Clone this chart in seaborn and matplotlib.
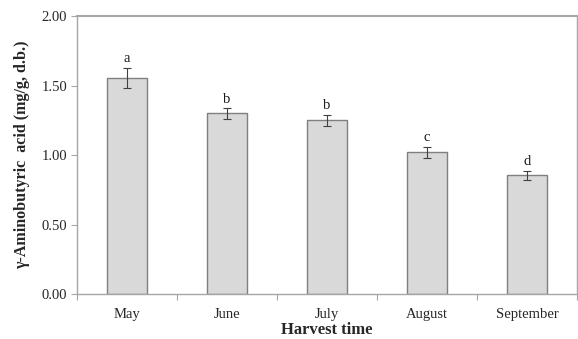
import matplotlib
matplotlib.use("Agg")
import matplotlib.pyplot as plt
import seaborn as sns
import numpy as np

months = ["May", "June", "July", "August", "September"]
gaba = [1.555, 1.30, 1.25, 1.02, 0.855]
gaba_err = [0.072, 0.038, 0.038, 0.038, 0.032]
letters = ["a", "b", "b", "c", "d"]
yticks = [0.00, 0.50, 1.00, 1.50, 2.00]

sns.set_style("white")
plt.rcParams["font.family"] = ["Liberation Serif", "DejaVu Serif"]

fig = plt.figure(figsize=(5.78, 3.39), dpi=100)
ax = fig.add_axes([0.1332, 0.1327, 0.865, 0.8201])

sns.barplot(x=months, y=gaba, color="#d9d9d9", saturation=1, width=0.4,
            edgecolor="#7f7f7f", linewidth=1.0, ax=ax, errorbar=None)

pos = np.arange(len(months))
ax.errorbar(pos, gaba, yerr=gaba_err, fmt="none", ecolor="#404040",
            elinewidth=0.8, capsize=3, capthick=0.8, zorder=5)

# significance letters just above each error bar
for x, v, e, lab in zip(pos, gaba, gaba_err, letters):
    ax.text(x, v + e + 0.018, lab, ha="center", va="bottom",
            fontsize=10.5, color="#1a1a1a")

ax.set_xlim(-0.5, len(months) - 0.5)
ax.set_ylim(0, 2.0)
ax.set_yticks(yticks)
ax.set_yticklabels([f"{t:.2f}" for t in yticks], fontsize=10.5, color="#262626")
ax.set_xticks(pos)
ax.set_xticklabels(months, fontsize=10.5, color="#262626")
ax.set_xticks(np.arange(-0.5, len(months)), minor=True)

ax.tick_params(axis="x", which="major", length=0, pad=10)
ax.tick_params(axis="x", which="minor", length=4, width=0.8, color="#a6a6a6",
               direction="out", bottom=True)
ax.tick_params(axis="y", which="major", length=4, width=0.8, color="#a6a6a6",
               direction="out", left=True, pad=3)

for side in ["left", "bottom", "top", "right"]:
    ax.spines[side].set_visible(True)
    ax.spines[side].set_color("#a6a6a6")
    ax.spines[side].set_linewidth(1.0)
ax.spines["top"].set_linewidth(1.5)

ax.set_xlabel("Harvest time", fontsize=12, fontweight="bold", labelpad=1)
ax.set_ylabel("γ-Aminobutyric  acid (mg/g, d.b.)", fontsize=11.5,
              fontweight="bold", labelpad=8)

fig.savefig("out.png", dpi=100)
